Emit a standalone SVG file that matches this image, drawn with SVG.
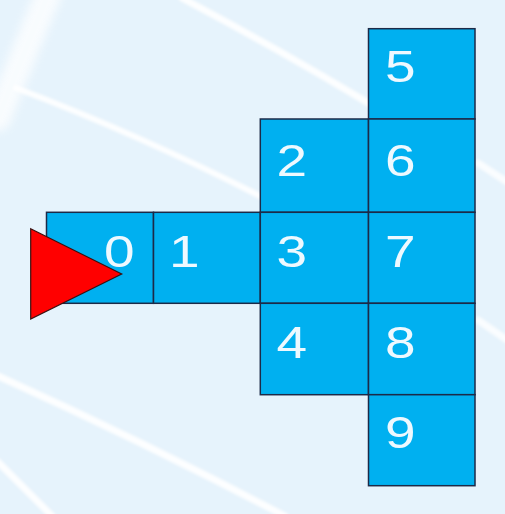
<svg xmlns="http://www.w3.org/2000/svg" width="505" height="514" viewBox="0 0 505 514">
  <defs>
    <filter id="soft" x="-10%" y="-10%" width="120%" height="120%">
      <feGaussianBlur stdDeviation="1.5"/>
    </filter>
    <filter id="wide" x="-50%" y="-50%" width="200%" height="200%">
      <feGaussianBlur stdDeviation="5"/>
    </filter>
    <style>
      .cell rect { fill: #00b0f0; stroke: #1c2a48; stroke-width: 1.5; }
      .cell text { font-family: "Liberation Sans", Arial, sans-serif; font-size: 44px; fill: #eef9ff; }
      .streak { fill: none; stroke: #ffffff; stroke-linecap: round; }
    </style>
  </defs>
  <rect x="0" y="0" width="505" height="514" fill="#e6f3fc"/>
  <g id="background">
    <path class="streak" d="M 48 -5 Q 25 50 -2 118" stroke-width="26" opacity="0.75" filter="url(#wide)"/>
    <g filter="url(#soft)">
      <path class="streak" d="M 16 88 Q 140 135 262 197" stroke-width="6" opacity="0.9"/>
      <path class="streak" d="M 182 -2 Q 280 50 370 104" stroke-width="7" opacity="0.9"/>
      <path class="streak" d="M -2 376 Q 140 440 285 516" stroke-width="7" opacity="0.9"/>
      <path class="streak" d="M -2 462 L 52 516" stroke-width="7" opacity="0.9"/>
      <path class="streak" d="M 478 163 L 507 182" stroke-width="7" opacity="0.8"/>
      <path class="streak" d="M 478 320 L 507 340" stroke-width="7" opacity="0.8"/>
    </g>
  </g>
  <g id="cell0" class="cell"><rect x="46.5" y="212.3" width="107" height="91"/><text transform="translate(104,267) scale(1.25,1)">0</text></g>
  <g id="cell1" class="cell"><rect x="153.5" y="212.3" width="106.8" height="91"/><text transform="translate(169,267) scale(1.25,1)">1</text></g>
  <g id="cell2" class="cell"><rect x="260.3" y="119" width="108.2" height="93.3"/><text transform="translate(276.5,175.5) scale(1.25,1)">2</text></g>
  <g id="cell3" class="cell"><rect x="260.3" y="212.3" width="108.2" height="91"/><text transform="translate(276.5,267) scale(1.25,1)">3</text></g>
  <g id="cell4" class="cell"><rect x="260.3" y="303.3" width="108.2" height="91.4"/><text transform="translate(276.5,358) scale(1.25,1)">4</text></g>
  <g id="cell5" class="cell"><rect x="368.5" y="28.7" width="106.5" height="90.3"/><text transform="translate(385,82) scale(1.25,1)">5</text></g>
  <g id="cell6" class="cell"><rect x="368.5" y="119" width="106.5" height="93.3"/><text transform="translate(385,175.5) scale(1.25,1)">6</text></g>
  <g id="cell7" class="cell"><rect x="368.5" y="212.3" width="106.5" height="91"/><text transform="translate(385,267) scale(1.25,1)">7</text></g>
  <g id="cell8" class="cell"><rect x="368.5" y="303.3" width="106.5" height="91.4"/><text transform="translate(385,358) scale(1.25,1)">8</text></g>
  <g id="cell9" class="cell"><rect x="368.5" y="394.7" width="106.5" height="91"/><text transform="translate(385,448) scale(1.25,1)">9</text></g>
  <g id="pointer"><polygon points="30.7,228.7 121.7,274 30.7,319" fill="#ff0000" stroke="#3a1010" stroke-width="1.2"/></g>
  <g id="connectors"></g>
</svg>
